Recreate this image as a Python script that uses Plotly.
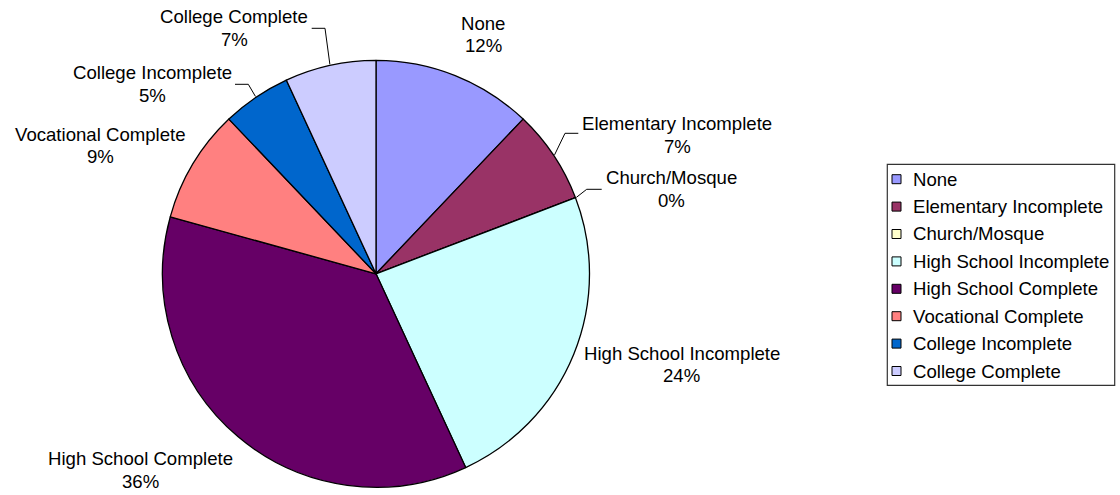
import math
import plotly.graph_objects as go

# Education level shares (percent)
categories = [
    "None",
    "Elementary Incomplete",
    "Church/Mosque",
    "High School Incomplete",
    "High School Complete",
    "Vocational Complete",
    "College Incomplete",
    "College Complete",
]
shares = [12.1, 7.1, 0.0, 23.9, 36.2, 8.6, 5.2, 6.9]
colors = ["#9999FF", "#993366", "#FFFFCC", "#CCFFFF",
          "#660066", "#FF8080", "#0066CC", "#CCCCFF"]

W, H = 1120, 495
FONT = "Liberation Sans, Arial, sans-serif"
FS = 18.6

# pie geometry in pixels
CX, CY, R = 376.0, 273.8, 213.5


def px(x):
    return x / W


def py(y):
    return 1 - y / H


fig = go.Figure(go.Pie(
    labels=categories,
    values=shares,
    sort=False,
    direction="clockwise",
    rotation=0,
    marker=dict(colors=colors, line=dict(color="#000000", width=1.3)),
    textinfo="none",
    hoverinfo="label+percent",
    showlegend=False,
    domain=dict(x=[px(CX - R), px(CX + R)], y=[py(CY + R), py(CY - R)]),
))

total = sum(shares)
pcts = [round(v / total * 100) for v in shares]

# slice mid-angles (degrees clockwise from 12 o'clock)
mids = []
acc = 0.0
for v in shares:
    mids.append((acc + v / 2) / total * 360)
    acc += v

# label block centres (px)
label_xy = {
    "None": (483, 34.5),
    "Elementary Incomplete": (677, 135),
    "Church/Mosque": (671, 189),
    "High School Incomplete": (682, 364.5),
    "High School Complete": (140, 470),
    "Vocational Complete": (100, 145.5),
    "College Incomplete": (152, 84),
    "College Complete": (234, 28),
}
LINE_GAP = 11.3

annotations = []
for name, p in zip(categories, pcts):
    lx, ly = label_xy[name]
    for txt, yy in ((name, ly - LINE_GAP), (f"{p}%", ly + LINE_GAP)):
        annotations.append(dict(
            text=txt, x=px(lx), y=py(yy), xref="paper", yref="paper",
            xanchor="center", yanchor="middle", showarrow=False,
            font=dict(family=FONT, size=FS, color="#000000"),
        ))

shapes = []

# leader lines: from slice edge at mid-angle to an elbow, then horizontal
leaders = {
    "Elementary Incomplete": [(565, 133.3), (578.3, 133.3)],
    "Church/Mosque": [(586.7, 189.3), (601.7, 189.3)],
    "College Incomplete": [(248.3, 84.3), (235, 84.3)],
    "College Complete": [(325, 28.3), (311.7, 28.3)],
}
for name, pts in leaders.items():
    i = categories.index(name)
    a = math.radians(mids[i])
    if shares[i] == 0:
        # zero slice: attach at its boundary
        a = math.radians(sum(shares[:i]) / total * 360)
    sx = CX + (R + 1) * math.sin(a)
    sy = CY - (R + 1) * math.cos(a)
    path = f"M{px(sx)},{py(sy)}" + "".join(f" L{px(x)},{py(y)}" for x, y in pts)
    shapes.append(dict(type="path", path=path, xref="paper", yref="paper",
                       line=dict(color="#000000", width=1)))

# legend
LB = (887.3, 164.3, 1114.7, 385.3)
shapes.append(dict(type="rect", xref="paper", yref="paper",
                   x0=px(LB[0]), x1=px(LB[2]), y0=py(LB[3]), y1=py(LB[1]),
                   line=dict(color="#333333", width=1.2), fillcolor="rgba(0,0,0,0)"))
ROW0, ROWH, SQ = 179.2, 27.4, 9
for i, (name, col) in enumerate(zip(categories, colors)):
    yc = ROW0 + i * ROWH
    shapes.append(dict(type="rect", xref="paper", yref="paper",
                       x0=px(892), x1=px(892 + SQ),
                       y0=py(yc + SQ / 2), y1=py(yc - SQ / 2),
                       fillcolor=col, line=dict(color="#000000", width=1)))
    annotations.append(dict(
        text=name, x=px(910.5), y=py(yc), xref="paper", yref="paper",
        xanchor="left", yanchor="middle", showarrow=False,
        font=dict(family=FONT, size=FS, color="#000000"),
    ))

fig.update_layout(
    width=W, height=H,
    margin=dict(l=0, r=0, t=0, b=0),
    paper_bgcolor="#FFFFFF",
    plot_bgcolor="#FFFFFF",
    shapes=shapes,
    annotations=annotations,
)

fig.write_html("out.html")
